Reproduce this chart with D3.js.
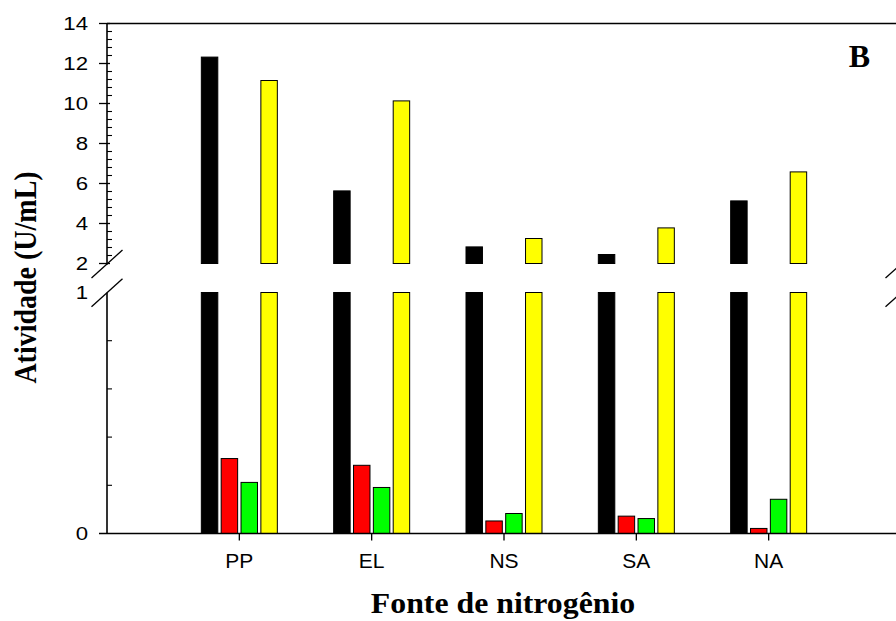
<!DOCTYPE html>
<html>
<head>
<meta charset="utf-8">
<script src="https://cdn.jsdelivr.net/npm/d3@7"></script>
<style>
  html, body { margin: 0; padding: 0; background: #fff; }
  svg { display: block; }
</style>
</head>
<body>
<svg id="chart" width="896" height="621"></svg>
<script>
// Nitrogen sources on the x axis
const categories = ["PP", "EL", "NS", "SA", "NA"];
// Four enzyme activity series (U/mL), one value per nitrogen source
const seriesNames = ["s1", "s2", "s3", "s4"];
const seriesColors = ["#000000", "#ff0000", "#00ff00", "#ffff00"];
const s1Values = [12.32, 5.63, 2.83, 2.45, 5.13];
const s2Values = [0.311, 0.283, 0.052, 0.072, 0.021];
const s3Values = [0.212, 0.191, 0.083, 0.062, 0.142];
const s4Values = [11.15, 10.13, 3.25, 3.78, 6.58];
const seriesValues = [s1Values, s2Values, s3Values, s4Values];
// Tick labels for the two segments of the broken y axis
const topTicks = [2, 4, 6, 8, 10, 12, 14];
const bottomTicks = [0, 1];
const bottomMinorTicks = [0.2, 0.4, 0.6, 0.8];

const svg = d3.select("#chart");

const xLeft = 107, xRight = 901;
const x = d3.scalePoint().domain(categories).range([xLeft, xRight]).padding(1);
const xSeries = d3.scaleBand().domain(seriesNames).range([-38.5, 38.5]).paddingInner(0.12);

// Broken y axis: upper segment 2..14, lower segment 0..1
const yTop = d3.scaleLinear().domain([2, 14]).range([263.5, 23.5]);
const yBot = d3.scaleLinear().domain([0, 1]).range([533.5, 292.5]);
const topLow = 2, botHigh = 1;

const bars = [];
seriesValues.forEach((vals, si) => {
  vals.forEach((v, ci) => bars.push({ cat: categories[ci], s: seriesNames[si], color: seriesColors[si], v }));
});

const bw = xSeries.bandwidth();
const gBars = svg.append("g");
// Lower segment pieces
gBars.selectAll("rect.low").data(bars).join("rect")
  .attr("class", "low")
  .attr("x", d => x(d.cat) + xSeries(d.s) + 0.5)
  .attr("width", bw - 1)
  .attr("y", d => yBot(Math.min(d.v, botHigh)))
  .attr("height", d => yBot(0) - yBot(Math.min(d.v, botHigh)))
  .attr("fill", d => d.color)
  .attr("stroke", "#000")
  .attr("stroke-width", 1);
// Upper segment pieces for bars that exceed the break
gBars.selectAll("rect.high").data(bars.filter(d => d.v > topLow)).join("rect")
  .attr("class", "high")
  .attr("x", d => x(d.cat) + xSeries(d.s) + 0.5)
  .attr("width", bw - 1)
  .attr("y", d => yTop(d.v))
  .attr("height", d => yTop(topLow) - yTop(d.v))
  .attr("fill", d => d.color)
  .attr("stroke", "#000")
  .attr("stroke-width", 1);

const axisColor = "#000";
const lw = 1.6;

// Frame line at the top
svg.append("line").attr("x1", xLeft).attr("x2", 896).attr("y1", yTop(14)).attr("y2", yTop(14))
  .attr("stroke", axisColor).attr("stroke-width", lw);

// Bottom x axis
svg.append("line").attr("x1", 99).attr("x2", 896).attr("y1", yBot(0)).attr("y2", yBot(0))
  .attr("stroke", axisColor).attr("stroke-width", lw);
svg.append("g").selectAll("line").data(categories).join("line")
  .attr("x1", d => x(d)).attr("x2", d => x(d))
  .attr("y1", yBot(0)).attr("y2", yBot(0) + 7)
  .attr("stroke", axisColor).attr("stroke-width", 1.3);
svg.append("g").selectAll("text").data(categories).join("text")
  .attr("x", d => x(d)).attr("y", 568)
  .attr("text-anchor", "middle")
  .attr("font-family", "'Liberation Sans', Arial, sans-serif")
  .attr("font-size", 21)
  .text(d => d);

// Left y axis, drawn in two pieces around the break
const breakTopY = 264.5, breakBotY = 292.8;
svg.append("line").attr("x1", xLeft).attr("x2", xLeft).attr("y1", yTop(14)).attr("y2", breakTopY)
  .attr("stroke", axisColor).attr("stroke-width", lw);
svg.append("line").attr("x1", xLeft).attr("x2", xLeft).attr("y1", breakBotY).attr("y2", yBot(0))
  .attr("stroke", axisColor).attr("stroke-width", lw);

const topMinor = d3.range(2.4, 14, 0.4).filter(v => Math.abs(v / 2 - Math.round(v / 2)) > 0.01);
svg.append("g").selectAll("line").data(topMinor).join("line")
  .attr("x1", xLeft).attr("x2", xLeft + 5)
  .attr("y1", d => yTop(d)).attr("y2", d => yTop(d))
  .attr("stroke", axisColor).attr("stroke-width", 1.1);
svg.append("g").selectAll("line").data(topTicks).join("line")
  .attr("x1", xLeft - 8).attr("x2", xLeft + 3)
  .attr("y1", d => yTop(d)).attr("y2", d => yTop(d))
  .attr("stroke", axisColor).attr("stroke-width", 1.3);
svg.append("g").selectAll("line").data(bottomMinorTicks).join("line")
  .attr("x1", xLeft).attr("x2", xLeft + 5)
  .attr("y1", d => yBot(d)).attr("y2", d => yBot(d))
  .attr("stroke", axisColor).attr("stroke-width", 1.1);

// Y tick labels, slightly widened
const tickFont = "'Liberation Sans', Arial, sans-serif";
function yLabel(g, data, scale) {
  g.selectAll("text").data(data).join("text")
    .attr("transform", d => `translate(88,${scale(d)}) scale(1.2,1)`)
    .attr("dy", "0.36em")
    .attr("text-anchor", "end")
    .attr("font-family", tickFont).attr("font-size", 18.5)
    .text(d => d);
}
yLabel(svg.append("g"), topTicks, yTop);
yLabel(svg.append("g"), bottomTicks, yBot);

// Break marks on both sides of the y range gap
function breakMarks(cx) {
  [278, 306.8].forEach(cy => {
    svg.append("line")
      .attr("x1", cx - 15.5).attr("y1", cy)
      .attr("x2", cx + 15.5).attr("y2", cy - 28)
      .attr("stroke", axisColor).attr("stroke-width", 1.3);
  });
}
breakMarks(xLeft);
breakMarks(xRight);

// Titles
const titleFont = "'Liberation Serif', 'Times New Roman', serif";
svg.append("text")
  .attr("transform", "translate(36,277.5) rotate(-90) scale(1,1.12)")
  .attr("text-anchor", "middle")
  .attr("font-family", titleFont)
  .attr("font-weight", "bold").attr("font-size", 28)
  .text("Atividade (U/mL)");
svg.append("text")
  .attr("transform", "translate(503,613) scale(1.06,1)")
  .attr("text-anchor", "middle")
  .attr("font-family", titleFont)
  .attr("font-weight", "bold").attr("font-size", 30)
  .text("Fonte de nitrogênio");
svg.append("text")
  .attr("x", 859.5).attr("y", 66.5)
  .attr("text-anchor", "middle")
  .attr("font-family", titleFont)
  .attr("font-weight", "bold").attr("font-size", 32)
  .text("B");
</script>
</body>
</html>
